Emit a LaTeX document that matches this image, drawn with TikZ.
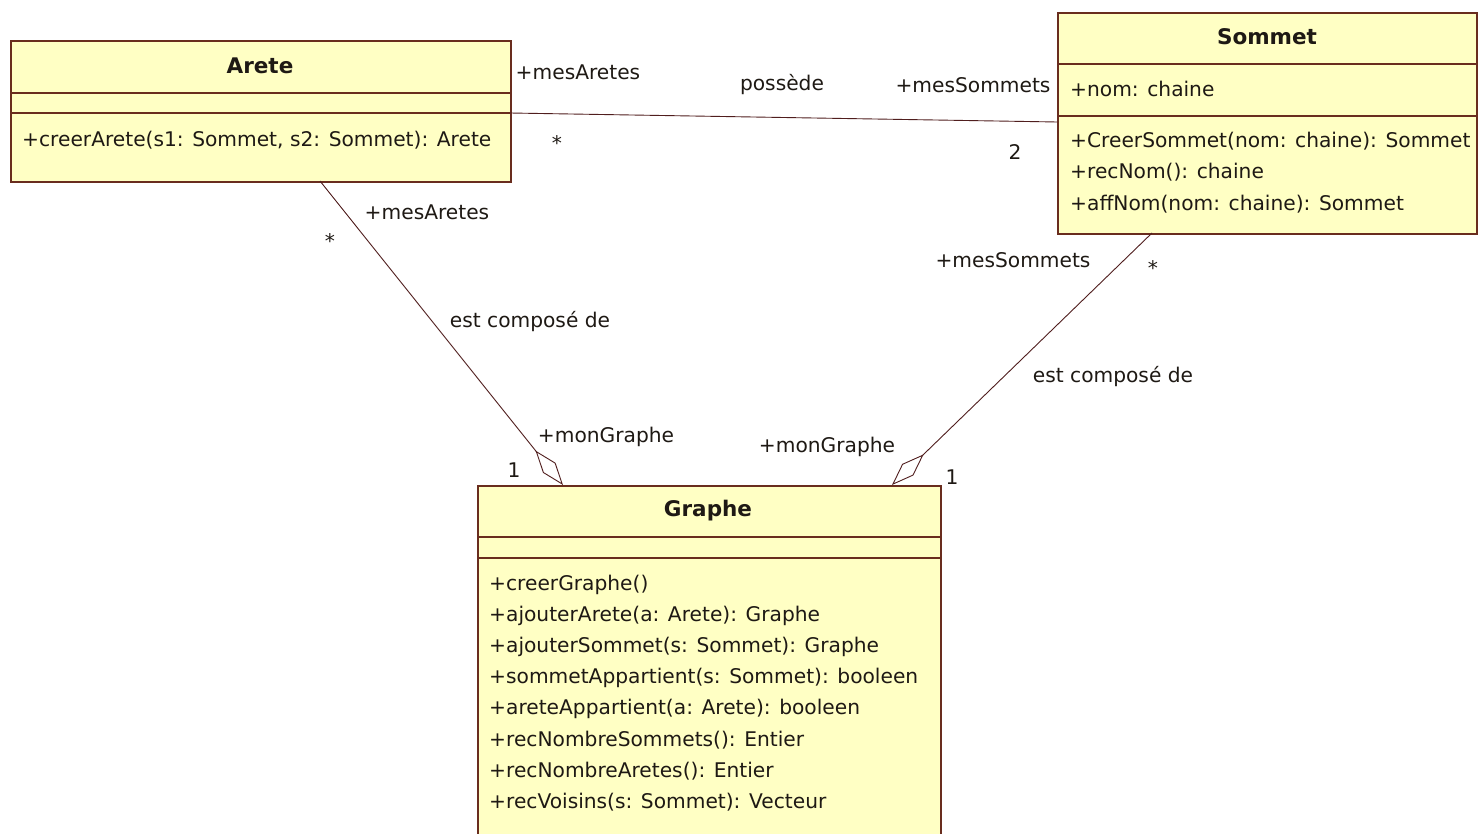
\documentclass[tikz,border=0pt]{standalone}
\usepackage{fontspec}
\setmainfont{DejaVu Sans}
\usetikzlibrary{arrows.meta}
\definecolor{classfill}{RGB}{255,255,196}
\definecolor{classedge}{RGB}{105,45,30}
\definecolor{assoc}{RGB}{80,30,30}
\definecolor{ink}{RGB}{30,25,20}
\tikzset{
  classbox/.style={draw=classedge, line width=1.6pt, fill=classfill, inner sep=0pt, anchor=north west},
  sepline/.style={draw=classedge, line width=1.6pt},
  title/.style={font=\fontsize{21.5}{24}\selectfont\bfseries, text=ink, inner sep=0pt},
  member/.style={font=\fontsize{20.2}{24}\selectfont, text=ink, inner sep=0pt, anchor=west},
  lbl/.style={font=\fontsize{20.2}{24}\selectfont, text=ink, inner sep=0pt},
  assocline/.style={draw=assoc, line width=0.9pt},
  composition/.style={assocline, -{Diamond[open, length=44pt, width=16pt, line width=0.9pt]}},
}
\begin{document}
\begin{tikzpicture}[x=1pt, y=-1pt]
\useasboundingbox (0,0) rectangle (1484,834);
\fill[white] (0,0) rectangle (1484,834);

% class Arete
\node[classbox, minimum width=500pt, minimum height=141pt] (arete) at (10,40) {};
\draw[sepline] (10,93) -- (510,93);
\draw[sepline] (10,113) -- (510,113);
\node[title] (areteT) at (260,66) {Arete};
\node[member] (areteM1) at (22,140) {+creerArete(s1: Sommet, s2: Sommet): Arete};

% class Sommet
\node[classbox, minimum width=419pt, minimum height=221pt] (sommet) at (1057,12) {};
\draw[sepline] (1057,64) -- (1476,64);
\draw[sepline] (1057,116) -- (1476,116);
\node[title] (sommetT) at (1267,37) {Sommet};
\node[member] (sommetA1) at (1070,89) {+nom: chaine};
\node[member] (sommetM1) at (1070,141) {+CreerSommet(nom: chaine): Sommet};
\node[member] (sommetM2) at (1070,172) {+recNom(): chaine};
\node[member] (sommetM3) at (1070,204) {+affNom(nom: chaine): Sommet};

% class Graphe (runs past the lower edge)
\node[classbox, minimum width=463pt, minimum height=380pt] (graphe) at (477,485) {};
\draw[sepline] (477,537) -- (940,537);
\draw[sepline] (477,558) -- (940,558);
\node[title] (grapheT) at (708,511) {Graphe};
\node[member] (grapheM1) at (489,585) {+creerGraphe()};
\node[member] (grapheM2) at (489,616) {+ajouterArete(a: Arete): Graphe};
\node[member] (grapheM3) at (489,647) {+ajouterSommet(s: Sommet): Graphe};
\node[member] (grapheM4) at (489,678) {+sommetAppartient(s: Sommet): booleen};
\node[member] (grapheM5) at (489,709) {+areteAppartient(a: Arete): booleen};
\node[member] (grapheM6) at (489,740) {+recNombreSommets(): Entier};
\node[member] (grapheM7) at (489,771) {+recNombreAretes(): Entier};
\node[member] (grapheM8) at (489,802) {+recVoisins(s: Sommet): Vecteur};

% attachment points on the class borders
\coordinate (areteE) at (510,113);
\coordinate (sommetW) at (1057,122);
\coordinate (areteS) at (320,181);
\coordinate (sommetS) at (1152,233);
\coordinate (grapheNW) at (563,485);
\coordinate (grapheNE) at (892,485);

% associations
\draw[assocline] (areteE) -- (sommetW);
\draw[composition] (areteS) -- (grapheNW);
\draw[composition] (sommetS) -- (grapheNE);

% association labels and multiplicities
\node[lbl] (l1) at (578,72) {+mesAretes};
\node[lbl] (l2) at (557,143) {*};
\node[lbl] (l3) at (782,85) {possède};
\node[lbl] (l4) at (973,85) {+mesSommets};
\node[lbl] (l5) at (1015,152) {2};
\node[lbl] (l6) at (427,212) {+mesAretes};
\node[lbl] (l7) at (330,241) {*};
\node[lbl] (l8) at (530,322) {est composé de};
\node[lbl] (l9) at (606,437) {+monGraphe};
\node[lbl] (l10) at (514,470) {1};
\node[lbl] (l11) at (1013,260) {+mesSommets};
\node[lbl] (l12) at (1153,268) {*};
\node[lbl] (l13) at (1113,377) {est composé de};
\node[lbl] (l14) at (827,447) {+monGraphe};
\node[lbl] (l15) at (952,477) {1};
\end{tikzpicture}
\end{document}
